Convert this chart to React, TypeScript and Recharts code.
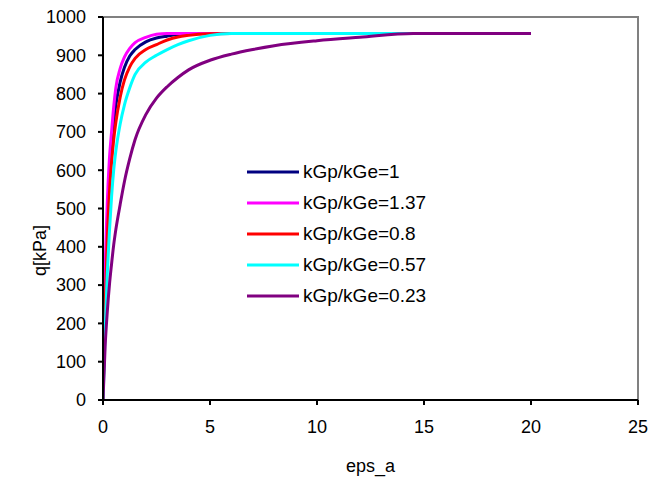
import React from 'react';
import { LineChart, Line, XAxis, YAxis, Legend, ReferenceArea } from 'recharts';

const eps = [0, 0.1, 0.2, 0.3, 0.4, 0.5, 0.6, 0.8, 1, 1.25, 1.5, 2, 2.5, 3, 3.5, 4, 5, 6, 7, 8, 10, 12, 14.5, 20];
const q1 = [0, 280, 460, 580, 665, 725, 770, 830, 868, 898, 915, 935, 945, 950, 954, 956, 957, 957, 957, 957, 957, 957, 957, 957];
const q137 = [0, 330, 515, 630, 700, 765, 815, 865, 895, 918, 933, 947, 955, 957, 957, 957, 957, 957, 957, 957, 957, 957, 957, 957];
const q08 = [0, 240, 420, 540, 620, 680, 725, 790, 835, 870, 892, 915, 928, 940, 948, 952, 956, 957, 957, 957, 957, 957, 957, 957];
const q057 = [0, 180, 330, 440, 530, 600, 650, 720, 770, 815, 850, 882, 900, 915, 928, 938, 952, 957, 957, 957, 957, 957, 957, 957];
const q023 = [0, 140, 230, 300, 355, 405, 445, 510, 570, 630, 680, 745, 788, 818, 842, 862, 887, 903, 915, 925, 938, 947, 957, 957];

const seriesNames = ['kGp/kGe=1', 'kGp/kGe=1.37', 'kGp/kGe=0.8', 'kGp/kGe=0.57', 'kGp/kGe=0.23'];
const seriesColors = ['#000080', '#FF00FF', '#FF0000', '#00FFFF', '#800080'];
const seriesValues = [q1, q137, q08, q057, q023];
const xTicks = [0, 5, 10, 15, 20, 25];
const yTicks = [0, 100, 200, 300, 400, 500, 600, 700, 800, 900, 1000];

const data = eps.map((e, i) => {
  const row: Record<string, number> = { eps: e };
  seriesNames.forEach((n, k) => {
    row[n] = seriesValues[k][i];
  });
  return row;
});

const FONT = 'Liberation Sans, Arial, sans-serif';

const LegendContent = (props: any) => {
  const payload = [...(props.payload || [])].sort(
    (a: any, b: any) => seriesNames.indexOf(a.value) - seriesNames.indexOf(b.value)
  );
  return (
    <div style={{ fontFamily: FONT, fontSize: 19, color: '#000' }}>
      {payload.map((p: any) => (
        <div key={p.value} style={{ height: 31, display: 'flex', alignItems: 'center' }}>
          <svg width={56} height={6} style={{ display: 'block' }}>
            <line x1={0} y1={3} x2={52} y2={3} stroke={p.color} strokeWidth={3} />
          </svg>
          <span style={{ whiteSpace: 'nowrap' }}>{p.value}</span>
        </div>
      ))}
    </div>
  );
};

const YLabel = (props: any) => {
  const vb = props.viewBox || { x: 0, y: 0, width: 0, height: 0 };
  const cx = vb.x - 3;
  const cy = vb.y + vb.height / 2 + 42;
  return (
    <text
      x={cx}
      y={cy}
      transform={`rotate(-90, ${cx}, ${cy})`}
      textAnchor="middle"
      dominantBaseline="central"
      fill="#000"
      fontSize={18}
      fontFamily={FONT}
    >
      q[kPa]
    </text>
  );
};

export default function App() {
  return (
    <div style={{ position: 'absolute', left: 0, top: 0, background: '#fff' }}>
      <LineChart
        width={652}
        height={483}
        data={data}
        margin={{ top: 17, right: 14, bottom: 33, left: 43 }}
      >
        <ReferenceArea x1={0} x2={25} y1={0} y2={1000} fill="none" stroke="#808080" strokeWidth={2} ifOverflow="visible" />
        <XAxis
          dataKey="eps"
          type="number"
          domain={[0, 25]}
          ticks={xTicks}
          allowDataOverflow
          stroke="#000"
          strokeWidth={2}
          tickSize={5}
          tickMargin={15}
          height={50}
          tick={{ fill: '#000', fontSize: 18, fontFamily: FONT }}
          label={{ value: 'eps_a', position: 'insideBottom', offset: -22, fill: '#000', fontSize: 18, fontFamily: FONT }}
        />
        <YAxis
          type="number"
          domain={[0, 1000]}
          ticks={yTicks}
          stroke="#000"
          strokeWidth={2}
          tickSize={5}
          tickMargin={12}
          width={60}
          tick={{ fill: '#000', fontSize: 18, fontFamily: FONT }}
          label={<YLabel />}
        />
        <Legend
          layout="vertical"
          align="center"
          verticalAlign="middle"
          content={<LegendContent />}
          wrapperStyle={{ position: 'absolute', left: 247, top: 156, width: 300 }}
        />
        {seriesNames.map((n, k) => (
          <Line
            key={n}
            type="monotone"
            dataKey={n}
            name={n}
            stroke={seriesColors[k]}
            strokeWidth={3}
            dot={false}
            isAnimationActive={false}
          />
        ))}
      </LineChart>
    </div>
  );
}
